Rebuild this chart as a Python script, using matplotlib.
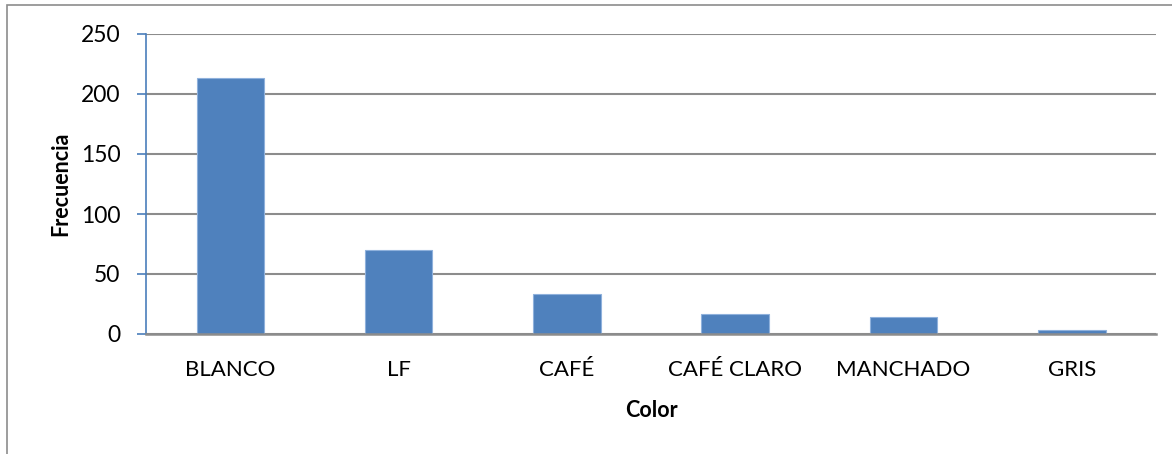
import numpy as np
import matplotlib
matplotlib.use("Agg")
from matplotlib import pyplot as plt
from matplotlib.patches import Rectangle

categories = ["BLANCO", "LF", "CAFÉ", "CAFÉ CLARO", "MANCHADO", "GRIS"]
frecuencia = [213, 70, 33, 17, 14, 3]
y_ticks = [0, 50, 100, 150, 200, 250]

plt.rcParams['font.family'] = ['Lato', 'DejaVu Sans']

W, H = 1172, 454
fig = plt.figure(figsize=(W / 100, H / 100), dpi=100)
ax = fig.add_axes([146 / W, 1 - 334 / H, (1156 - 146) / W, 300 / H])

# outer chart frame (cut off at right/bottom as in the original)
fig.patches.append(Rectangle((7 / W, -0.1), 1.2, 1 - 5 / H + 0.1,
                             transform=fig.transFigure, fill=False,
                             edgecolor="#8c8c8c", linewidth=1.2))

inds = np.arange(len(categories))
ax.bar(inds, frecuencia, width=0.40, color="#4F81BD", edgecolor="#8fb1dc",
       linewidth=0.8, zorder=3)

ax.set_xlim(-0.5, len(categories) - 0.5)
ax.set_ylim(0, 250)
ax.set_yticks(y_ticks)
ax.set_xticks(inds)
ax.set_xticklabels(categories)
ax.yaxis.grid(True, color="#8c8c8c", linewidth=1.5, zorder=0)
ax.set_axisbelow(True)

for s in ["top", "right"]:
    ax.spines[s].set_visible(False)
ax.spines["left"].set_color("#4A7EBB")
ax.spines["left"].set_linewidth(1.2)
ax.spines["bottom"].set_color("#8c8c8c")
ax.spines["bottom"].set_linewidth(1.8)
ax.spines["bottom"].set_zorder(4)

ax.tick_params(axis="y", length=6.5, width=1.2, color="#4A7EBB", labelsize=16.5, pad=12)
ax.tick_params(axis="x", length=0, labelsize=16, pad=19)

ax.set_ylabel("Frecuencia", fontsize=15.5, fontweight="bold", labelpad=7)
ax.set_xlabel("Color", fontsize=15.5, fontweight="bold", labelpad=14)

fig.savefig("out.png", dpi=100)
